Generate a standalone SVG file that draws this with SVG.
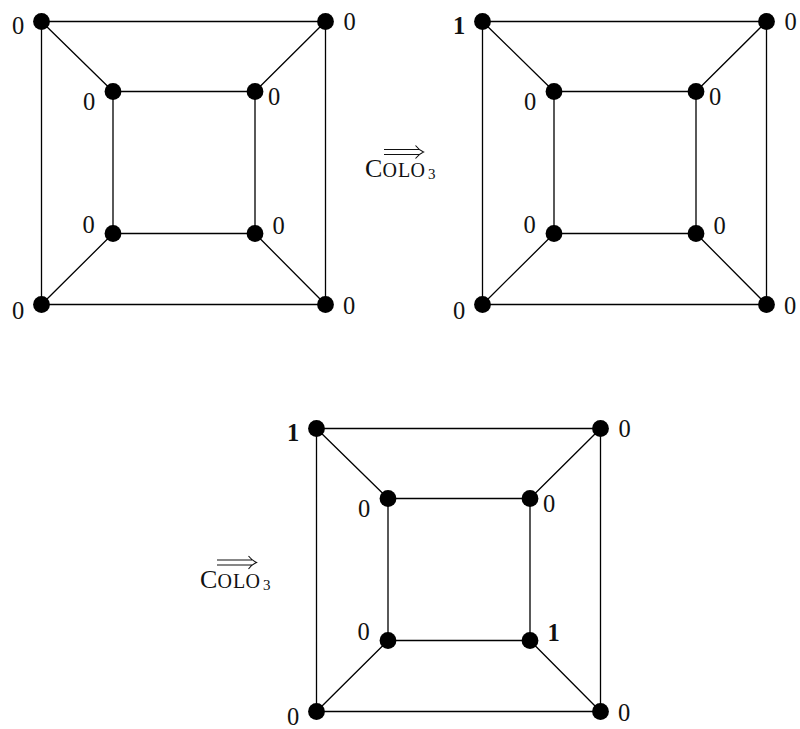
<svg xmlns="http://www.w3.org/2000/svg" width="800" height="729" viewBox="0 0 800 729">
<style>
.e{stroke:#000;stroke-width:1.3;fill:none}
.n{fill:#000}
.l{font-family:"Liberation Serif","DejaVu Serif",serif;font-size:24.5px;fill:#111;text-anchor:middle}
.b{font-weight:bold}
.arr{stroke:#111;stroke-width:1.1;fill:none}
.op{font-family:"Liberation Serif","DejaVu Serif",serif;fill:#111}
</style>
<defs>
<g id="edges">
<path class="e" d="M41.5 21.5H325.5V304.5H41.5Z M113 91.5H255V233.5H113Z M41.5 21.5L113 91.5 M325.5 21.5L255 91.5 M41.5 304.5L113 233.5 M325.5 304.5L255 233.5"/>
</g>
</defs>
<rect width="800" height="729" fill="#fff"/>
<g id="graph1">
<g id="connectors1"><use href="#edges"/></g>
<g id="g1-otl"><circle class="n" cx="41.5" cy="21.5" r="8.4"/><text class="l" x="18" y="34">0</text></g>
<g id="g1-otr"><circle class="n" cx="325.5" cy="21.5" r="8.4"/><text class="l" x="349.5" y="30">0</text></g>
<g id="g1-itl"><circle class="n" cx="113" cy="91.5" r="8.4"/><text class="l" x="89" y="110">0</text></g>
<g id="g1-itr"><circle class="n" cx="255" cy="91.5" r="8.4"/><text class="l" x="274" y="105">0</text></g>
<g id="g1-ibl"><circle class="n" cx="113" cy="233.5" r="8.4"/><text class="l" x="88.5" y="233">0</text></g>
<g id="g1-ibr"><circle class="n" cx="255" cy="233.5" r="8.4"/><text class="l" x="278.5" y="234">0</text></g>
<g id="g1-obl"><circle class="n" cx="41.5" cy="304.5" r="8.4"/><text class="l" x="18" y="318.5">0</text></g>
<g id="g1-obr"><circle class="n" cx="325.5" cy="304.5" r="8.4"/><text class="l" x="349" y="314">0</text></g>
</g>
<g id="graph2" transform="translate(441,0)">
<g id="connectors2"><use href="#edges"/></g>
<g id="g2-otl"><circle class="n" cx="41.5" cy="21.5" r="8.4"/><text class="l b" x="18" y="34">1</text></g>
<g id="g2-otr"><circle class="n" cx="325.5" cy="21.5" r="8.4"/><text class="l" x="349.5" y="30">0</text></g>
<g id="g2-itl"><circle class="n" cx="113" cy="91.5" r="8.4"/><text class="l" x="89" y="110">0</text></g>
<g id="g2-itr"><circle class="n" cx="255" cy="91.5" r="8.4"/><text class="l" x="274" y="105">0</text></g>
<g id="g2-ibl"><circle class="n" cx="113" cy="233.5" r="8.4"/><text class="l" x="88.5" y="233">0</text></g>
<g id="g2-ibr"><circle class="n" cx="255" cy="233.5" r="8.4"/><text class="l" x="278.5" y="234">0</text></g>
<g id="g2-obl"><circle class="n" cx="41.5" cy="304.5" r="8.4"/><text class="l" x="18" y="318.5">0</text></g>
<g id="g2-obr"><circle class="n" cx="325.5" cy="304.5" r="8.4"/><text class="l" x="349" y="314">0</text></g>
</g>
<g id="graph3" transform="translate(275,407)">
<g id="connectors3"><use href="#edges"/></g>
<g id="g3-otl"><circle class="n" cx="41.5" cy="21.5" r="8.4"/><text class="l b" x="18" y="34">1</text></g>
<g id="g3-otr"><circle class="n" cx="325.5" cy="21.5" r="8.4"/><text class="l" x="349.5" y="30">0</text></g>
<g id="g3-itl"><circle class="n" cx="113" cy="91.5" r="8.4"/><text class="l" x="89" y="110">0</text></g>
<g id="g3-itr"><circle class="n" cx="255" cy="91.5" r="8.4"/><text class="l" x="274" y="105">0</text></g>
<g id="g3-ibl"><circle class="n" cx="113" cy="233.5" r="8.4"/><text class="l" x="88.5" y="233">0</text></g>
<g id="g3-ibr"><circle class="n" cx="255" cy="233.5" r="8.4"/><text class="l b" x="278.5" y="234">1</text></g>
<g id="g3-obl"><circle class="n" cx="41.5" cy="304.5" r="8.4"/><text class="l" x="18" y="318">0</text></g>
<g id="g3-obr"><circle class="n" cx="325.5" cy="304.5" r="8.4"/><text class="l" x="349" y="314">0</text></g>
</g>
<g id="op1">
<path class="arr" d="M384 149.5H419 M384 154.5H419 M415.5 145.5Q419 150 423.5 152Q419 154 415.5 158.5"/>
<text class="op" y="177"><tspan x="365" font-size="26">C</tspan><tspan x="382.5" font-size="20">O</tspan><tspan x="398" font-size="20">L</tspan><tspan x="410.5" font-size="20">O</tspan><tspan x="428" dy="2" font-size="15">3</tspan></text>
</g>
<g id="op2">
<path class="arr" d="M217 560H252 M217 565H252 M248.5 556Q252 560.5 256.5 562.5Q252 564.5 248.5 569"/>
<text class="op" y="588"><tspan x="200" font-size="26">C</tspan><tspan x="217.5" font-size="20">O</tspan><tspan x="233" font-size="20">L</tspan><tspan x="245.5" font-size="20">O</tspan><tspan x="263" dy="2" font-size="15">3</tspan></text>
</g>
</svg>
